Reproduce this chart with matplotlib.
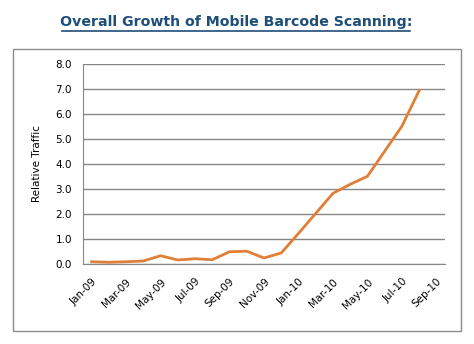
import matplotlib
matplotlib.use("Agg")
import matplotlib.pyplot as plt
from matplotlib.lines import Line2D
from matplotlib.patches import Rectangle

months = ["Jan-09", "Feb-09", "Mar-09", "Apr-09", "May-09", "Jun-09", "Jul-09",
          "Aug-09", "Sep-09", "Oct-09", "Nov-09", "Dec-09", "Jan-10", "Feb-10",
          "Mar-10", "Apr-10", "May-10", "Jun-10", "Jul-10", "Aug-10", "Sep-10"]
traffic = [0.09, 0.07, 0.09, 0.12, 0.33, 0.16, 0.21, 0.17, 0.49, 0.51, 0.24,
           0.44, 1.22, 2.02, 2.82, 3.18, 3.50, 4.50, 5.50, 6.92]
yticks = [0, 1, 2, 3, 4, 5, 6, 7, 8]

W, H = 474, 344
fig = plt.figure(figsize=(W / 100, H / 100), dpi=100)
fig.patch.set_facecolor("white")

# outer frame
fig.add_artist(Rectangle((12.5 / W, 1 - 331 / H), 448 / W, 282.5 / H,
                         transform=fig.transFigure, fill=False,
                         edgecolor="#8c8c8c", lw=1))

# title with underline
fig.text(236 / W, 1 - 22 / H, "Overall Growth of Mobile Barcode Scanning:",
         ha="center", va="center", fontsize=10.2, fontweight="heavy",
         color="#1f4e79", family="DejaVu Sans")
fig.add_artist(Line2D([62 / W, 410 / W], [1 - 30.5 / H, 1 - 30.5 / H],
                      transform=fig.transFigure, color="#1f4e79", lw=1.2))

ax = fig.add_axes([83 / W, 1 - 264 / H, 362 / W, 200.5 / H])
x = list(range(len(traffic)))
ax.plot(x, traffic, color="#e07f38", lw=2.0, solid_joinstyle="round")

ax.set_xlim(-0.5, len(months) - 0.5)
ax.set_ylim(0, 8)
ax.set_yticks(yticks)
ax.set_yticklabels([f"{v:.1f}" for v in yticks], fontsize=7.5)
ax.set_xticks(range(0, len(months), 2))
ax.set_xticklabels(months[::2], rotation=45, ha="right", rotation_mode="anchor",
                   fontsize=7.5)
ax.tick_params(length=0)
ax.tick_params(axis="y", pad=8)
ax.tick_params(axis="x", pad=9)
ax.grid(axis="y", color="#868686", lw=1)
ax.set_axisbelow(True)
for s in ["right", "top"]:
    ax.spines[s].set_visible(False)
for s in ["left", "bottom"]:
    ax.spines[s].set_color("#868686")
ax.set_ylabel("Relative Traffic", fontsize=7.5, labelpad=10)

fig.savefig("out.png", dpi=100)
